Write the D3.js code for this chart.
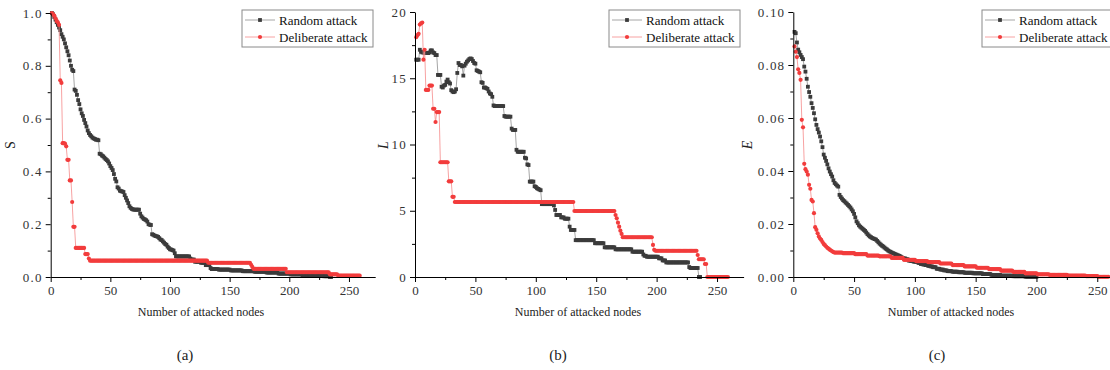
<!DOCTYPE html>
<html>
<head>
<meta charset="utf-8">
<script src="https://cdn.jsdelivr.net/npm/d3@7/dist/d3.min.js"></script>
<style>
  body { margin: 0; background: #fff; }
  text { font-family: "Liberation Serif", "Times New Roman", serif; }
</style>
</head>
<body>
<div class="mainContainer"></div>
<script>
// runs of [number of nodes, value], node numbering starts at 1
const sRandom = [[1,1.0],[1,0.995],[1,0.985],[1,0.975],[1,0.965],[1,0.955],[1,0.945],[1,0.935],[1,0.92],[1,0.91],[1,0.9],[1,0.885],[1,0.87],[1,0.855],[1,0.84],[1,0.82],[1,0.8],[1,0.785],[1,0.78],[1,0.71],[1,0.705],[1,0.69],[1,0.67],[1,0.655],[1,0.635],[1,0.62],[1,0.61],[1,0.595],[1,0.583],[1,0.57],[1,0.555],[1,0.545],[1,0.538],[1,0.533],[1,0.528],[1,0.525],[1,0.523],[2,0.52],[1,0.518],[1,0.467],[1,0.465],[1,0.46],[1,0.457],[1,0.452],[1,0.447],[1,0.443],[1,0.438],[1,0.43],[1,0.42],[1,0.413],[1,0.405],[1,0.39],[1,0.372],[1,0.362],[1,0.34],[1,0.335],[1,0.327],[1,0.325],[1,0.324],[1,0.322],[1,0.31],[1,0.3],[1,0.29],[1,0.28],[1,0.268],[1,0.262],[1,0.258],[1,0.256],[5,0.255],[1,0.24],[1,0.23],[1,0.225],[1,0.22],[1,0.218],[1,0.215],[1,0.21],[1,0.2],[1,0.198],[1,0.197],[1,0.162],[1,0.16],[1,0.157],[1,0.155],[1,0.154],[1,0.152],[1,0.147],[1,0.142],[1,0.14],[1,0.135],[1,0.13],[1,0.125],[1,0.122],[1,0.115],[1,0.11],[1,0.105],[1,0.104],[1,0.102],[1,0.1],[1,0.09],[12,0.078],[1,0.07],[3,0.066],[5,0.058],[4,0.054],[4,0.045],[1,0.034],[6,0.03],[10,0.028],[10,0.025],[10,0.022],[10,0.02],[10,0.017],[10,0.013],[10,0.01],[10,0.007],[8,0.005],[5,0.003],[2,0]];
const sDeliberate = [[1,1.0],[1,0.995],[1,0.99],[1,0.98],[1,0.97],[1,0.965],[1,0.955],[1,0.745],[1,0.735],[2,0.507],[1,0.505],[1,0.495],[2,0.444],[2,0.366],[1,0.284],[2,0.19],[8,0.11],[3,0.087],[1,0.07],[99,0.062],[36,0.054],[1,0.046],[1,0.038],[28,0.031],[36,0.018],[7,0.01],[19,0.005]];

const lRandom = [[3,16.4],[1,17.15],[1,17.0],[2,16.95],[4,16.9],[1,16.95],[2,17.1],[1,16.95],[1,16.9],[2,16.75],[3,15.25],[1,14.36],[1,14.3],[1,14.45],[1,14.5],[1,14.75],[1,14.9],[1,14.7],[1,14.6],[1,14.1],[1,14.0],[1,13.95],[1,14.0],[1,14.17],[1,15.4],[1,16.15],[2,16.0],[1,15.9],[1,15.2],[1,15.95],[1,16.1],[1,16.25],[1,16.35],[1,16.45],[1,16.5],[1,16.45],[1,16.3],[1,16.15],[1,16.1],[1,15.6],[1,15.55],[1,15.5],[1,15.45],[1,14.7],[1,14.65],[2,14.3],[1,14.25],[1,14.2],[1,14.0],[1,13.85],[1,13.8],[1,13.6],[1,12.95],[8,12.9],[1,12.15],[5,12.1],[1,11.2],[3,11.1],[1,9.6],[6,9.45],[1,9.0],[1,8.95],[1,8.5],[1,8.45],[4,7.2],[1,6.85],[1,6.8],[1,6.7],[1,6.65],[1,6.6],[1,6.55],[10,5.5],[1,5.4],[1,5.06],[4,4.68],[3,4.5],[4,4.4],[1,3.8],[4,3.55],[16,2.78],[8,2.55],[9,2.24],[14,2.09],[9,1.91],[1,1.7],[2,1.6],[10,1.53],[3,1.41],[3,1.25],[19,1.1],[1,0.75],[7,0.68],[2,0]];
const lDeliberate = [[1,18.1],[1,18.25],[1,18.35],[1,19.05],[1,19.15],[1,19.2],[1,16.4],[1,17.15],[3,14.12],[3,14.45],[2,12.7],[1,11.7],[3,12.45],[7,8.66],[3,7.22],[2,6.05],[99,5.66],[34,4.98],[1,4.68],[1,4.43],[1,4.1],[1,3.8],[1,3.5],[1,3.25],[25,3.0],[1,2.42],[1,2.05],[35,1.98],[1,1.66],[5,1.34],[2,0.98],[18,0]];

const eRandom = [[1,0.0925],[1,0.092],[1,0.0885],[1,0.0858],[1,0.0848],[1,0.0838],[1,0.083],[1,0.0822],[1,0.0794],[1,0.0775],[1,0.0748],[1,0.0718],[1,0.0698],[1,0.068],[1,0.0656],[1,0.0638],[1,0.0618],[1,0.0595],[1,0.0574],[1,0.0558],[1,0.0545],[1,0.053],[1,0.0512],[1,0.049],[1,0.0462],[1,0.045],[1,0.0438],[1,0.0425],[1,0.041],[1,0.0398],[1,0.0388],[1,0.0379],[1,0.0365],[1,0.0355],[1,0.035],[1,0.0345],[1,0.0341],[1,0.031],[1,0.0302],[1,0.0296],[1,0.029],[1,0.0286],[1,0.0281],[1,0.0277],[1,0.0272],[1,0.0267],[1,0.0262],[1,0.0255],[1,0.0248],[1,0.0238],[1,0.0225],[1,0.021],[1,0.0203],[1,0.0195],[1,0.019],[1,0.0186],[1,0.0182],[1,0.0178],[1,0.0174],[1,0.0168],[1,0.0162],[1,0.0157],[1,0.0153],[1,0.015],[1,0.0147],[1,0.0145],[1,0.0143],[1,0.0141],[1,0.0136],[1,0.0131],[1,0.0126],[1,0.0122],[1,0.0118],[1,0.0115],[1,0.0111],[1,0.0107],[1,0.0104],[1,0.01],[1,0.0097],[1,0.0095],[1,0.0092],[1,0.009],[1,0.0088],[1,0.0086],[1,0.0084],[1,0.0082],[1,0.008],[1,0.0078],[1,0.0075],[1,0.0072],[2,0.007],[2,0.0067],[2,0.0062],[2,0.006],[2,0.0058],[2,0.0057],[2,0.0053],[2,0.0049],[2,0.0047],[2,0.0045],[2,0.0042],[2,0.004],[3,0.0037],[3,0.0031],[3,0.0028],[3,0.0025],[4,0.0022],[5,0.002],[5,0.0018],[7,0.0016],[8,0.0014],[7,0.0011],[8,0.0008],[10,0.0005],[10,0.0003],[10,0.0001]];
const eDeliberate = [[1,0.087],[1,0.085],[1,0.083],[1,0.0784],[1,0.077],[1,0.0744],[1,0.0593],[1,0.0565],[1,0.0427],[1,0.0407],[1,0.0398],[1,0.0386],[1,0.0348],[1,0.0333],[1,0.0291],[1,0.0285],[1,0.0241],[1,0.0188],[1,0.0178],[1,0.0165],[1,0.0153],[1,0.0145],[1,0.014],[1,0.0132],[1,0.0125],[1,0.012],[1,0.0115],[1,0.011],[1,0.0107],[1,0.0103],[1,0.01],[1,0.0097],[1,0.0094],[7,0.0092],[10,0.009],[10,0.0086],[10,0.0081],[10,0.0078],[10,0.0072],[10,0.0065],[10,0.006],[10,0.0056],[10,0.0051],[10,0.0045],[10,0.004],[10,0.0035],[10,0.003],[10,0.0024],[10,0.0019],[10,0.0014],[10,0.001],[15,0.0008],[15,0.0005],[10,0.0003],[9,0.0001]];

const seriesNames = ['Random attack', 'Deliberate attack'];
const panelLabels = ['(a)', '(b)', '(c)'];
const yLabels = ['S', 'L', 'E'];
const xTitle = 'Number of attacked nodes';
const xTicks = [0, 50, 100, 150, 200, 250];
const xMinor = [25, 75, 125, 175, 225];
const sTicks = [0, 0.2, 0.4, 0.6, 0.8, 1.0];
const sMinor = [0.1, 0.3, 0.5, 0.7, 0.9];
const lTicks = [0, 5, 10, 15, 20];
const lMinor = [2.5, 7.5, 12.5, 17.5];
const eTicks = [0, 0.02, 0.04, 0.06, 0.08, 0.10];
const eMinor = [0.01, 0.03, 0.05, 0.07, 0.09];

const expand = runs => {
    let n = 0;
    const out = [];
    runs.forEach(([count, value]) => {
        for (let i = 0; i < count; i++) {
            n++;
            out.push({node: n, value: value});
        }
    });
    return out;
};

const panels = [
    {left: 50.7, right: 375.2, top: 13, bottom: 277, ymax: 1, ticks: sTicks, minor: sMinor, fmt: d3.format('.1f'),
     series: [sRandom, sDeliberate], yLabel: yLabels[0], italic: false, labelX: 15, legendX: 242, center: 201, tag: 185},
    {left: 415, right: 743.6, top: 12, bottom: 277, ymax: 20, ticks: lTicks, minor: lMinor, fmt: d3.format('d'),
     series: [lRandom, lDeliberate], yLabel: yLabels[1], italic: true, labelX: 388, legendX: 609, center: 578, tag: 558},
    {left: 793.3, right: 1124, top: 12, bottom: 277, ymax: 0.1, ticks: eTicks, minor: eMinor, fmt: d3.format('.2f'),
     series: [eRandom, eDeliberate], yLabel: yLabels[2], italic: true, labelX: 752, legendX: 982, center: 951, tag: 937}
];

const styles = [
    {line: '#8f8f8f', fill: '#3b3b3b', shape: 'square'},
    {line: '#f58a8a', fill: '#f23c3c', shape: 'circle'}
];

const container = d3.select('.mainContainer')
    .append('svg')
    .attr('width', 1110)
    .attr('height', 370);

container.append('rect')
    .attr('width', 1110)
    .attr('height', 370)
    .attr('fill', '#fff');

const drawMarkers = (g, data, x, y, st) => {
    if (st.shape === 'square') {
        g.selectAll('rect.mk')
            .data(data)
            .enter()
            .append('rect')
            .attr('class', 'mk')
            .attr('x', d => x(d.node) - 1.9)
            .attr('y', d => y(d.value) - 1.9)
            .attr('width', 3.8)
            .attr('height', 3.8)
            .attr('fill', st.fill);
    } else {
        g.selectAll('circle.mk')
            .data(data)
            .enter()
            .append('circle')
            .attr('class', 'mk')
            .attr('cx', d => x(d.node))
            .attr('cy', d => y(d.value))
            .attr('r', 2.1)
            .attr('fill', st.fill);
    }
};

panels.forEach((p, pi) => {
    const x = d3.scaleLinear().domain([0, 272]).range([p.left, p.right]);
    const y = d3.scaleLinear().domain([0, p.ymax]).range([p.bottom, p.top]);
    const graph = container.append('g');

    // series
    p.series.forEach((runs, si) => {
        const data = expand(runs);
        const st = styles[si];
        const sg = graph.append('g');
        sg.append('path')
            .datum(data)
            .attr('fill', 'none')
            .attr('stroke', st.line)
            .attr('stroke-width', 0.8)
            .attr('d', d3.line().x(d => x(d.node)).y(d => y(d.value)));
        drawMarkers(sg, data, x, y, st);
    });

    // axes
    const xAxisGroup = graph.append('g').attr('transform', `translate(0,${p.bottom})`);
    xAxisGroup.call(d3.axisBottom(x).tickValues(xTicks).tickSize(5).tickSizeOuter(0).tickPadding(4));
    const xMinorGroup = graph.append('g').attr('transform', `translate(0,${p.bottom})`);
    xMinorGroup.call(d3.axisBottom(x).tickValues(xMinor).tickSize(3).tickFormat(''));
    xMinorGroup.select('.domain').remove();

    const yAxisGroup = graph.append('g').attr('transform', `translate(${p.left},0)`);
    yAxisGroup.call(d3.axisLeft(y).tickValues(p.ticks).tickSize(5).tickSizeOuter(0).tickPadding(3).tickFormat(p.fmt));
    const yMinorGroup = graph.append('g').attr('transform', `translate(${p.left},0)`);
    yMinorGroup.call(d3.axisLeft(y).tickValues(p.minor).tickSize(3).tickFormat(''));
    yMinorGroup.select('.domain').remove();

    graph.selectAll('.tick text')
        .attr('font-family', '"Liberation Serif", "Times New Roman", serif')
        .attr('font-size', 13)
        .attr('fill', '#333');
    yAxisGroup.selectAll('.tick text').attr('letter-spacing', '1.2px');
    graph.selectAll('.domain, .tick line').attr('stroke', '#000');

    // labels
    graph.append('text')
        .attr('transform', `translate(${p.labelX},145) rotate(-90)`)
        .attr('text-anchor', 'middle')
        .attr('font-size', 14)
        .attr('font-style', p.italic ? 'italic' : 'normal')
        .attr('fill', '#222')
        .text(p.yLabel);

    graph.append('text')
        .attr('x', p.center)
        .attr('y', 316)
        .attr('text-anchor', 'middle')
        .attr('font-size', 12)
        .attr('fill', '#222')
        .text(xTitle);

    graph.append('text')
        .attr('x', p.tag)
        .attr('y', 360)
        .attr('text-anchor', 'middle')
        .attr('font-size', 15)
        .attr('fill', '#222')
        .text(panelLabels[pi]);

    // legend
    const legend = graph.append('g').attr('transform', `translate(${p.legendX},10)`);
    legend.append('rect')
        .attr('width', 131)
        .attr('height', 37)
        .attr('fill', '#fff')
        .attr('stroke', '#8a8a8a')
        .attr('stroke-width', 1);
    seriesNames.forEach((name, si) => {
        const st = styles[si];
        const ly = 10 + si * 17;
        legend.append('line')
            .attr('x1', 3).attr('x2', 33)
            .attr('y1', ly).attr('y2', ly)
            .attr('stroke', st.line)
            .attr('stroke-width', 0.8);
        drawMarkers(legend.append('g'), [{node: 0, value: 0}], () => 18, () => ly, st);
        legend.append('text')
            .attr('x', 37)
            .attr('y', ly + 4.5)
            .attr('font-size', 13)
            .attr('fill', '#111')
            .text(name);
    });
});
</script>
</body>
</html>
